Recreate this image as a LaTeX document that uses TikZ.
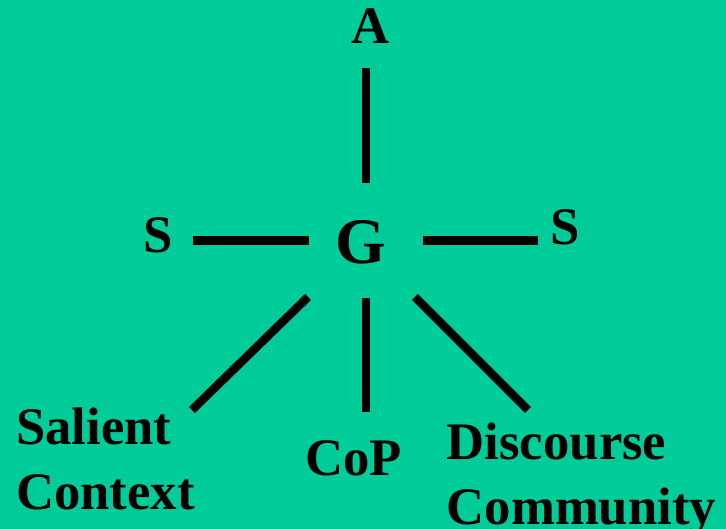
\documentclass[tikz,border=0pt]{standalone}
\usepackage{fontspec}
\setmainfont{Liberation Serif}
\usepackage{tikz}
\definecolor{slidegreen}{RGB}{0,204,153}

\begin{document}
\begin{tikzpicture}[line cap=butt,
    lbl/.style={inner sep=0pt, font=\bfseries\fontsize{15}{18.5}\selectfont},
    spoke/.style={line width=2.4pt, black}]
  % background
  \fill[slidegreen] (0,0) rectangle (7.26,5.29);
  \useasboundingbox (0,0) rectangle (7.26,5.29);
  % labels
  \node[lbl, anchor=base] (a)  at (3.705,4.85) {A};
  \node[lbl, anchor=base, font=\bfseries\fontsize{18.5}{22}\selectfont] (g) at (3.605,2.65) {G};
  \node[lbl, anchor=base] (sl) at (1.585,2.76) {S};
  \node[lbl, anchor=base] (sr) at (5.655,2.84) {S};
  \node[lbl, anchor=base west, align=left] (sal) at (0.155,0.19) {Salient\\Context};
  \node[lbl, anchor=base] (cop) at (3.535,0.53) {CoP};
  \node[lbl, anchor=base west, align=left] (dis) at (4.46,0.04) {Discourse\\Community};
  % spoke ends
  \coordinate (gn) at (3.66,3.46);  \coordinate (an) at (3.66,4.61);
  \coordinate (gw) at (3.09,2.885); \coordinate (sw) at (1.93,2.885);
  \coordinate (ge) at (4.23,2.885); \coordinate (se) at (5.38,2.885);
  \coordinate (gsw) at (3.08,2.32); \coordinate (salend) at (1.92,1.19);
  \coordinate (gs) at (3.66,2.31);  \coordinate (copend) at (3.66,1.17);
  \coordinate (gse) at (4.15,2.32); \coordinate (disend) at (5.28,1.19);
  % spokes
  \draw[spoke] (gn) -- (an);
  \draw[spoke] (gw) -- (sw);
  \draw[spoke] (ge) -- (se);
  \draw[spoke] (gsw) -- (salend);
  \draw[spoke] (gs) -- (copend);
  \draw[spoke] (gse) -- (disend);
\end{tikzpicture}
\end{document}
